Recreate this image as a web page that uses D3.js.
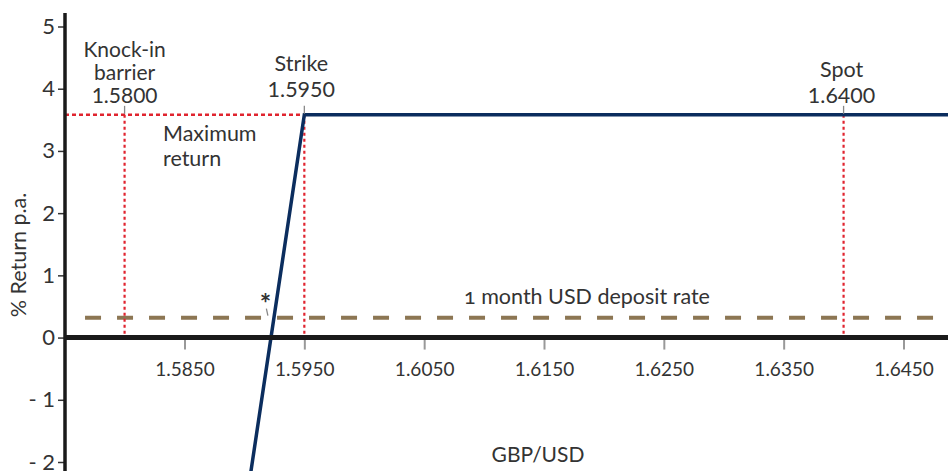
<!DOCTYPE html>
<html>
<head>
<meta charset="utf-8">
<script src="https://cdn.jsdelivr.net/npm/d3@7/dist/d3.min.js"></script>
<style>
  body { margin: 0; background: #fff; }
  svg text { font-family: Lato, "Open Sans", sans-serif; fill: #333; }
</style>
</head>
<body>
<div id="chart"></div>
<script>
  // chart values
  const xTicks = [1.5850, 1.5950, 1.6050, 1.6150, 1.6250, 1.6350, 1.6450];
  const yTicks = [-2, -1, 0, 1, 2, 3, 4, 5];
  const payoff = [[1.5900, -2.85], [1.5950, 3.58], [1.6490, 3.58]];
  const maxReturn = 3.58;
  const depositRate = 0.32;
  const depositFrom = 1.5767;
  const barrier = 1.5800, strike = 1.5950, spot = 1.6400;
  const asteriskAt = [1.5920, depositRate];

  const width = 948, height = 471;
  const axisX = 65;

  var svg = d3.select("#chart").append("svg")
      .attr("width", width).attr("height", height);

  var x = d3.scaleLinear().domain([1.585, 1.645]).range([184.5, 903.5]);
  var y = d3.scaleLinear().domain([-2, 5]).range([462, 26.5]);

  svg.append("clipPath").attr("id", "plot")
    .append("rect").attr("x", axisX).attr("y", 0)
    .attr("width", width - axisX).attr("height", height);

  /* x axis ticks & labels */
  var xa = svg.append("g")
      .attr("transform", "translate(0," + y(0) + ")")
      .call(d3.axisBottom(x).tickValues(xTicks)
            .tickSize(12).tickPadding(13)
            .tickFormat(d3.format(".4f")));
  xa.select(".domain").remove();
  xa.selectAll("line").attr("stroke", "#999").attr("stroke-width", 2);
  xa.selectAll("text").style("font-size", "19px").attr("fill", "#333");

  /* y axis */
  var ya = svg.append("g")
      .attr("transform", "translate(" + axisX + ",0)")
      .call(d3.axisLeft(y).tickValues(yTicks)
            .tickSize(7).tickPadding(3)
            .tickFormat(function(d) { return d < 0 ? "- " + (-d) : d; }));
  ya.select(".domain").remove();
  ya.selectAll("line").attr("stroke", "#333").attr("stroke-width", 1.5);
  ya.selectAll("text").style("font-size", "22px").attr("fill", "#333");

  var g = svg.append("g").attr("clip-path", "url(#plot)");

  /* deposit rate dashed line */
  g.append("line")
    .attr("x1", x(depositFrom)).attr("x2", width)
    .attr("y1", y(depositRate)).attr("y2", y(depositRate))
    .attr("stroke", "#8c7653").attr("stroke-width", 4)
    .attr("stroke-dasharray", "16,16");

  /* red dotted guides */
  var red = "#e0242f";
  g.append("line")
    .attr("x1", axisX).attr("x2", x(strike))
    .attr("y1", y(maxReturn)).attr("y2", y(maxReturn))
    .attr("stroke", red).attr("stroke-width", 2.5).attr("stroke-dasharray", "4,3");
  [barrier, strike, spot].forEach(function(v) {
    g.append("line")
      .attr("x1", x(v)).attr("x2", x(v))
      .attr("y1", y(maxReturn)).attr("y2", y(0))
      .attr("stroke", red).attr("stroke-width", 2.2).attr("stroke-dasharray", "3,3");
    // small grey leader above
    svg.append("line")
      .attr("x1", x(v)).attr("x2", x(v))
      .attr("y1", y(maxReturn) - 9).attr("y2", y(maxReturn) - 1)
      .attr("stroke", "#888").attr("stroke-width", 1.3);
  });

  /* payoff line */
  g.append("path")
    .datum(payoff)
    .attr("fill", "none")
    .attr("stroke", "#0b2d5e").attr("stroke-width", 3.5)
    .attr("d", d3.line().x(function(d) { return x(d[0]); }).y(function(d) { return y(d[1]); }));

  /* zero line and y axis line */
  svg.append("line")
    .attr("x1", axisX).attr("x2", width)
    .attr("y1", y(0)).attr("y2", y(0))
    .attr("stroke", "#1a1a1a").attr("stroke-width", 5);
  svg.append("line")
    .attr("x1", axisX).attr("x2", axisX)
    .attr("y1", 13).attr("y2", height)
    .attr("stroke", "#1a1a1a").attr("stroke-width", 3.5);

  /* asterisk + leader */
  var ax = x(asteriskAt[0]), ay = y(asteriskAt[1]);
  svg.append("line")
    .attr("x1", ax - 2).attr("y1", ay - 9).attr("x2", ax - 0.5).attr("y2", ay - 2)
    .attr("stroke", "#888").attr("stroke-width", 1.3);
  svg.append("text").attr("x", ax - 3).attr("y", ay - 5)
    .attr("text-anchor", "middle").style("font-size", "27px")
    .style("font-weight", "bold").text("*");

  /* annotations */
  function label(lines, cx, y0, lh, anchor, size) {
    var t = svg.append("text").style("font-size", (size || 21.5) + "px")
      .attr("text-anchor", anchor || "middle");
    lines.forEach(function(s, i) {
      t.append("tspan").attr("x", cx).attr("y", y0 + i * lh).text(s);
    });
    return t;
  }
  label(["Knock-in", "barrier", "1.5800"], x(barrier), 57, 23, "middle", 21);
  label(["Strike", "1.5950"], x(strike) - 3, 71, 26);
  label(["Spot", "1.6400"], x(spot) - 2, 77, 26);
  label(["Maximum", "return"], 163, 141, 25, "start");

  svg.append("text")
    .attr("x", 587).attr("y", 304)
    .attr("text-anchor", "middle")
    .style("font-size", "21.5px")
    .style("font-variant-numeric", "oldstyle-nums")
    .text("1 month USD deposit rate");

  svg.append("text")
    .attr("x", 538).attr("y", 462)
    .attr("text-anchor", "middle")
    .style("font-size", "21px")
    .text("GBP/USD");

  svg.append("text")
    .attr("transform", "translate(26,255) rotate(-90)")
    .attr("text-anchor", "middle")
    .style("font-size", "21.5px")
    .text("% Return p.a.");
</script>
</body>
</html>
